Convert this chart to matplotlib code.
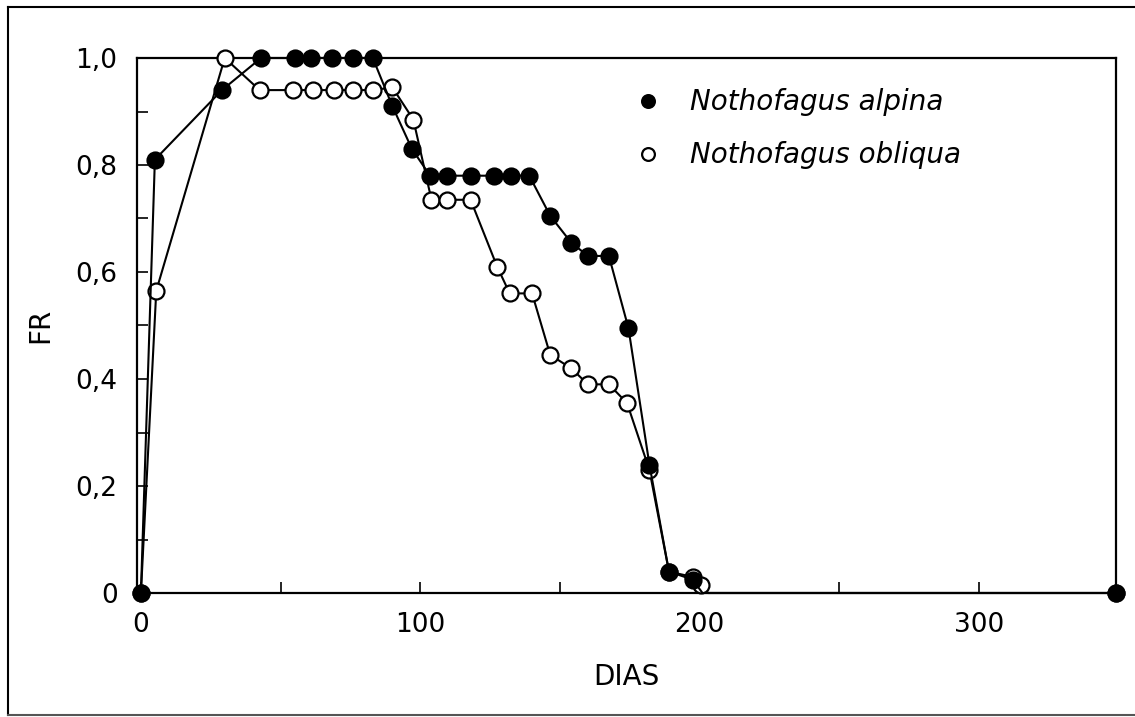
import matplotlib
matplotlib.use('Agg')
import matplotlib.pyplot as plt
from matplotlib.lines import Line2D
from matplotlib.ticker import MultipleLocator, FixedLocator, FixedFormatter

# data (last-but-one entry: curve reaches the axis, no marker there)
dias_alpina = [0, 5, 29, 43, 55, 61, 68.5, 76, 83, 90, 97, 103.5, 109.5, 118, 126.5, 132.5, 139,
               146.5, 154, 160, 167.5, 174.5, 182, 189, 197.5, 201, 349]
fr_alpina = [0, 0.81, 0.94, 1.0, 1.0, 1.0, 1.0, 1.0, 1.0, 0.91, 0.83, 0.78, 0.78, 0.78, 0.78, 0.78, 0.78,
             0.705, 0.655, 0.63, 0.63, 0.495, 0.24, 0.04, 0.025, 0, 0]

dias_obliqua = [0, 5.5, 30, 42.5, 54.5, 61.5, 69, 76, 83, 90, 97.5, 104, 109.5, 118, 127.5, 132, 140,
                146.5, 154, 160, 167.5, 174, 182, 189, 197.5, 200.5, 203, 349]
fr_obliqua = [0, 0.565, 1.0, 0.94, 0.94, 0.94, 0.94, 0.94, 0.94, 0.945, 0.885, 0.735, 0.735, 0.735, 0.61,
              0.56, 0.56, 0.445, 0.42, 0.39, 0.39, 0.355, 0.23, 0.04, 0.03, 0.015, 0, 0]

ytick_vals = [0, 0.2, 0.4, 0.6, 0.8, 1.0]
ytick_labels = ['0', '0,2', '0,4', '0,6', '0,8', '1,0']
xtick_vals = [0, 100, 200, 300]
xtick_labels = ['0', '100', '200', '300']

W, H = 1135, 717
fig = plt.figure(figsize=(W/100, H/100), dpi=100)
ax = fig.add_axes([137/W, 1-593/H, (1116-137)/W, (593-58)/H])

mk_ob = [i for i in range(len(dias_obliqua)) if i != len(dias_obliqua)-2]
mk_al = [i for i in range(len(dias_alpina)) if i != len(dias_alpina)-2]

ax.plot(dias_obliqua, fr_obliqua, '-o', color='black', lw=1.5, ms=11.5, mfc='white', mec='black',
        mew=1.6, clip_on=False, zorder=3, markevery=mk_ob, label='Nothofagus obliqua')
ax.plot(dias_alpina, fr_alpina, '-o', color='black', lw=1.5, ms=11.5, mfc='black', mec='black',
        mew=1.6, clip_on=False, zorder=4, markevery=mk_al, label='Nothofagus alpina')

ax.set_xlim(-1.4, 349)
ax.set_ylim(0, 1.0)

ax.yaxis.set_major_locator(FixedLocator(ytick_vals))
ax.yaxis.set_major_formatter(FixedFormatter(ytick_labels))
ax.yaxis.set_minor_locator(MultipleLocator(0.1))
ax.xaxis.set_major_locator(FixedLocator(xtick_vals))
ax.xaxis.set_major_formatter(FixedFormatter(xtick_labels))
ax.xaxis.set_minor_locator(MultipleLocator(50))

ax.tick_params(which='both', direction='in', length=8, width=1.2, labelsize=19, pad=13.5)
ax.tick_params(axis='y', which='major', pad=14)
for s in ax.spines.values():
    s.set_linewidth(1.6)

ax.set_xlabel('DIAS', fontsize=20, labelpad=18)
ax.set_ylabel('FR', fontsize=20, labelpad=15)

h, l = ax.get_legend_handles_labels()
leg = ax.legend(h[::-1], l[::-1], loc='upper left', bbox_to_anchor=(0.515, 0.943), frameon=False,
                handlelength=0.5, handletextpad=1.25, labelspacing=0.9, borderpad=0, borderaxespad=0,
                markerscale=0.8, prop={'size': 20, 'style': 'italic'})
for lh in leg.legend_handles:
    lh.set_linestyle('none')

# page border from the scan
fig.add_artist(Line2D([8/W, 8/W], [1-7/H, 1-715/H], color='black', lw=1.5))
fig.add_artist(Line2D([8/W, 1], [1-7/H, 1-7/H], color='black', lw=1.5))
fig.add_artist(Line2D([8/W, 1], [1-715/H, 1-715/H], color='#555555', lw=1.5))

fig.savefig('out.png', dpi=100)
